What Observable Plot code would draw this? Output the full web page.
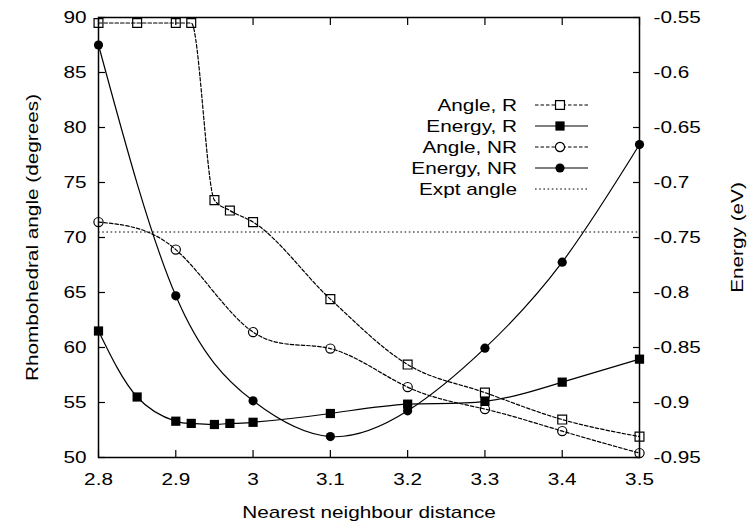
<!DOCTYPE html>
<html><head><meta charset="utf-8">
<script src="https://cdn.jsdelivr.net/npm/d3@7"></script>
<script src="https://cdn.jsdelivr.net/npm/@observablehq/plot@0.6"></script>
<style>body{margin:0;background:#fff}</style>
</head><body><div id="chart"></div>
<script>
// ---- data ----
const distR = [2.8, 2.85, 2.9, 2.92, 2.95, 2.97, 3.0, 3.1, 3.2, 3.3, 3.4, 3.5];
const angleR = [89.5, 89.5, 89.5, 89.5, 73.4, 72.45, 71.4, 64.4, 58.45, 55.9, 53.45, 51.9];
const energyR = [-0.835, -0.895, -0.917, -0.919, -0.920, -0.919, -0.918, -0.910, -0.9015, -0.899, -0.8815, -0.8606];
const distNR = [2.8, 2.9, 3.0, 3.1, 3.2, 3.3, 3.4, 3.5];
const angleNR = [71.4, 68.9, 61.4, 59.9, 56.4, 54.4, 52.4, 50.4];
const energyNR = [-0.575, -0.803, -0.8985, -0.931, -0.9076, -0.8506, -0.7724, -0.6655];
const exptAngle = [70.5];
const xTicks = [2.8, 2.9, 3.0, 3.1, 3.2, 3.3, 3.4, 3.5];
const angleTicks = [50, 55, 60, 65, 70, 75, 80, 85, 90];
const energyTicks = [-0.95, -0.9, -0.85, -0.8, -0.75, -0.7, -0.65, -0.6, -0.55];
const seriesNames = ["Angle, R", "Energy, R", "Angle, NR", "Energy, NR", "Expt angle"];
const xLabel = "Nearest neighbour distance";
const yLabel = "Rhombohedral angle (degrees)";
const y2Label = "Energy (eV)";

// energy (right axis) mapped onto the angle scale: -0.95..-0.55 eV <-> 50..90 deg
const eToA = e => 50 + (e + 0.95) * 100;
const aToE = a => (a - 50) / 100 - 0.95;
const fmt1 = d => String(+d.toFixed(1));
const fmt2 = d => String(+d.toFixed(2));

const rowsAR = distR.map((d, i) => ({d, v: angleR[i]}));
const rowsER = distR.map((d, i) => ({d, v: eToA(energyR[i])}));
const rowsAN = distNR.map((d, i) => ({d, v: angleNR[i]}));
const rowsEN = distNR.map((d, i) => ({d, v: eToA(energyNR[i])}));

const DASH = "3.5,2";
const DOT = "1.6,2.6";
const LW = 1.2;

const chart = Plot.plot({
  width: 751, height: 524,
  marginLeft: 98, marginRight: 112, marginTop: 17, marginBottom: 67,
  style: {fontFamily: "'Liberation Sans', Arial, sans-serif", fontSize: "17px", color: "black", background: "white", overflow: "visible"},
  x: {domain: [2.8, 3.5]},
  y: {domain: [50, 90]},
  marks: [
    Plot.ruleY(exptAngle, {stroke: "black", strokeWidth: LW, strokeDasharray: DOT}),
    Plot.line(rowsAR, {x: "d", y: "v", curve: "monotone-x", stroke: "black", strokeWidth: LW, strokeDasharray: DASH}),
    Plot.line(rowsAN, {x: "d", y: "v", curve: "natural", stroke: "black", strokeWidth: LW, strokeDasharray: DASH}),
    Plot.line(rowsER, {x: "d", y: "v", curve: "natural", stroke: "black", strokeWidth: LW}),
    Plot.line(rowsEN, {x: "d", y: "v", curve: "natural", stroke: "black", strokeWidth: LW}),
    Plot.dot(rowsAR, {x: "d", y: "v", symbol: "square", r: 5, stroke: "black", strokeWidth: 1.2, fill: "none"}),
    Plot.dot(rowsAN, {x: "d", y: "v", symbol: "circle", r: 4.6, stroke: "black", strokeWidth: 1.2, fill: "none"}),
    Plot.dot(rowsER, {x: "d", y: "v", symbol: "square", r: 5.2, fill: "black", stroke: "none"}),
    Plot.dot(rowsEN, {x: "d", y: "v", symbol: "circle", r: 4.6, fill: "black", stroke: "none"}),
    Plot.frame({stroke: "black", strokeWidth: 1.5}),
    Plot.axisX(xTicks, {anchor: "bottom", tickSize: -7, tickPadding: 22, tickFormat: fmt1, label: null, strokeWidth: 1.2}),
    Plot.axisX(xTicks, {anchor: "top", tickSize: -7, tickFormat: () => "", label: null, strokeWidth: 1.2}),
    Plot.axisY(angleTicks, {anchor: "left", tickSize: -7, tickPadding: 19, label: null, strokeWidth: 1.2}),
    Plot.axisY(energyTicks.map(eToA), {anchor: "right", tickSize: -7, tickPadding: 21, tickFormat: a => fmt2(aToE(a)), label: null, strokeWidth: 1.2}),
    Plot.text([xLabel], {frameAnchor: "bottom", dy: 60, textAnchor: "middle", fill: "black"}),
    Plot.text([yLabel], {frameAnchor: "left", dx: -66, rotate: -90, textAnchor: "middle", fill: "black"}),
    Plot.text([y2Label], {frameAnchor: "right", dx: 98, rotate: -90, textAnchor: "middle", fill: "black"})
  ]
});
document.getElementById("chart").append(chart);

// ---- legend (top right, inside frame) ----
const legendStyles = [
  {dash: DASH, symbol: d3.symbolSquare, size: 80, fill: "none"},
  {dash: null, symbol: d3.symbolSquare, size: 85, fill: "black"},
  {dash: DASH, symbol: d3.symbolCircle, size: 66, fill: "none"},
  {dash: null, symbol: d3.symbolCircle, size: 66, fill: "black"},
  {dash: DOT, symbol: null}
];
const svg = d3.select(chart.tagName.toLowerCase() === "svg" ? chart : chart.querySelector("svg"));
const lg = svg.append("g").attr("class", "legend");
seriesNames.forEach((name, i) => {
  const st = legendStyles[i];
  const y = 105 + 21 * i;
  lg.append("text").attr("x", 517).attr("y", y).attr("dy", "0.36em")
    .attr("text-anchor", "end").attr("fill", "black").text(name);
  lg.append("line").attr("x1", 535).attr("x2", 588).attr("y1", y).attr("y2", y)
    .attr("stroke", "black").attr("stroke-width", LW)
    .attr("stroke-dasharray", st.dash);
  if (st.symbol) {
    lg.append("path").attr("transform", `translate(560,${y})`)
      .attr("d", d3.symbol(st.symbol, st.size)())
      .attr("fill", st.fill === "none" ? "white" : "black")
      .attr("stroke", "black").attr("stroke-width", st.fill === "none" ? 1.2 : 0);
  }
});

// stretch text horizontally to mimic the wide rendering of the original
const S = 1.22;
svg.selectAll("text").each(function() {
  const L = this.getComputedTextLength();
  if (L > 0) {
    this.setAttribute("textLength", (L * S).toFixed(1));
    this.setAttribute("lengthAdjust", "spacingAndGlyphs");
  }
});
</script>
</body></html>
